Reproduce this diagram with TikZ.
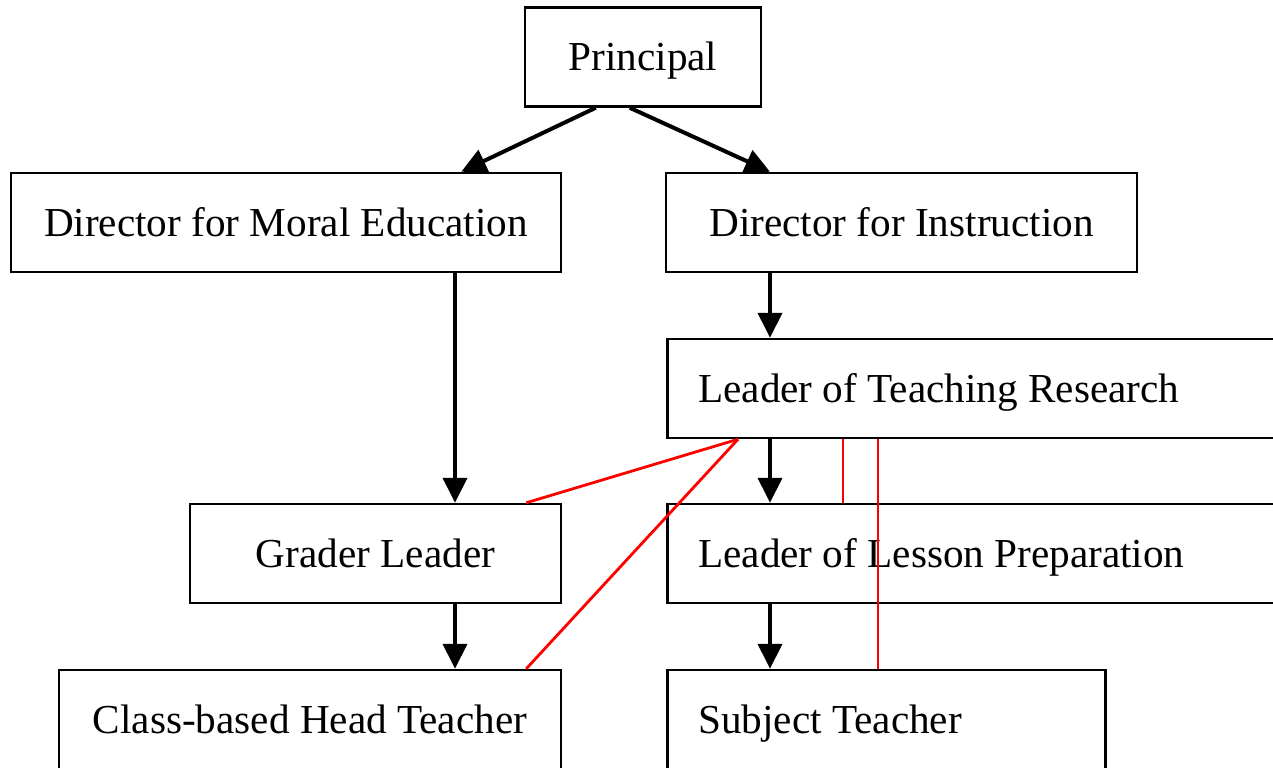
\documentclass[tikz,border=0pt]{standalone}
\usepackage{fontspec}
\setmainfont{Liberation Serif}
\usetikzlibrary{arrows.meta,calc}

\begin{document}
\begin{tikzpicture}[
    x=0.5pt, y=-0.5pt,
    mybox/.style={rectangle, draw=black, line width=1.25pt, fill=white, minimum height=49.5pt,
        text height=16pt, text depth=2.4pt, font=\fontsize{20.6pt}{25pt}\selectfont},
    leftbox/.style={mybox, anchor=west, align=flush left, inner xsep=15.5pt},
    arr/.style={-{Triangle[length=12.5pt,width=12pt]}, line width=2pt},
    link/.style={red, line width=1.4pt}
]
    \useasboundingbox (0,0) rectangle (1273,767);
    \clip (0,0) rectangle (1273,767);

    \node[mybox, minimum width=118pt] at (643,57) (pri) {Principal};
    \node[mybox, minimum width=275pt] at (286,222.5) (dme) {Director for Moral Education};
    \node[mybox, minimum width=235.5pt] at (901.5,222.5) (di) {Director for Instruction};
    \node[leftbox, text width=286pt] at (666,388.5) (ltr) {Leader of Teaching Research};
    \node[mybox, minimum width=185.5pt] at (375.5,553.5) (gl) {Grader Leader};
    \node[leftbox, text width=286pt] at (666,553.5) (llp) {Leader of Lesson Preparation};
    \node[mybox, minimum width=251pt] at (310,719.5) (cht) {Class-based Head Teacher};
    \node[leftbox, text width=188pt] at (666,719.5) (st) {Subject Teacher};

    \coordinate (colA) at (455,0);
    \coordinate (colB) at (770,0);

    \draw[arr] ($(pri.south west)+(72,0)$) -- ($(dme.north east)+(-101,0)$);
    \draw[arr] ($(pri.south west)+(106,0)$) -- (di.north -| colB);
    \draw[arr] (dme.south -| colA) -- (gl.north -| colA);
    \draw[arr] (di.south -| colB) -- (ltr.north -| colB);
    \draw[arr] (ltr.south -| colB) -- (llp.north -| colB);
    \draw[arr] (gl.south -| colA) -- (cht.north -| colA);
    \draw[arr] (llp.south -| colB) -- (st.north -| colB);

    \draw[link] ($(ltr.south west)+(72,0)$) -- ($(gl.north east)+(-36,0)$);
    \draw[link] ($(ltr.south west)+(72,0)$) -- ($(cht.north east)+(-36,0)$);
    \draw[link] ($(ltr.south west)+(177,0)$) -- ($(llp.north west)+(177,0)$);
    \draw[link] ($(ltr.south west)+(212,0)$) -- ($(st.north west)+(212,0)$);
\end{tikzpicture}
\end{document}
